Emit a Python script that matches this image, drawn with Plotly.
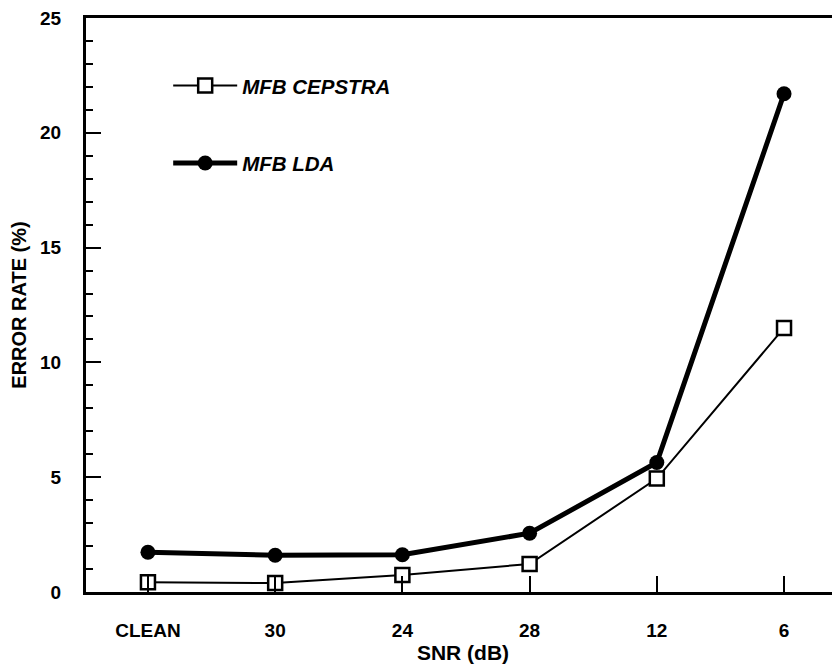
import plotly.graph_objects as go

categories = ["CLEAN", "30", "24", "28", "12", "6"]
cepstra = [0.43, 0.39, 0.74, 1.22, 4.94, 11.5]
lda = [1.73, 1.6, 1.62, 2.56, 5.64, 21.7]
y_ticks = [0, 5, 10, 15, 20, 25]

xpos = list(range(len(categories)))
FONT = "Liberation Sans, Arial, Helvetica, sans-serif"

fig = go.Figure()
fig.add_trace(go.Scatter(
    x=xpos, y=cepstra, mode="lines+markers", name="MFB CEPSTRA",
    line=dict(color="black", width=2),
    marker=dict(symbol="square", size=14, color="white", line=dict(color="black", width=2.5)),
    legend="legend",
))
fig.add_trace(go.Scatter(
    x=xpos, y=lda, mode="lines+markers", name="MFB LDA",
    line=dict(color="black", width=5),
    marker=dict(symbol="circle", size=15, color="black"),
    legend="legend2",
))

legend_common = dict(
    bgcolor="rgba(0,0,0,0)", borderwidth=0,
    font=dict(family=FONT, size=20.5, color="black", weight="bold", style="italic"),
    xanchor="left", yanchor="middle", itemwidth=64,
)
# page has an 8px body margin, so the figure is sized to fit the 840x669 window
fig.update_layout(
    width=832, height=661,
    margin=dict(l=78, r=0, t=10, b=77, autoexpand=False),
    plot_bgcolor="white", paper_bgcolor="white",
    font=dict(family=FONT, color="black"),
    showlegend=True,
    legend=dict(x=0.109, y=0.882, **legend_common),
    legend2=dict(x=0.109, y=0.747, **legend_common),
    xaxis=dict(
        range=[-0.487, 5.44], tickmode="array", tickvals=xpos, ticktext=categories,
        ticks="inside", ticklen=16, tickwidth=2, tickcolor="black",
        showline=True, linecolor="black", linewidth=3, mirror=True,
        showgrid=False, zeroline=False, ticklabelstandoff=19, automargin=False,
        ticklabeloverflow="allow",
        tickfont=dict(family=FONT, size=19, color="black", weight="bold"),
        title=dict(text="SNR (dB)", standoff=6,
                   font=dict(family=FONT, size=21, color="black", weight="bold")),
    ),
    yaxis=dict(
        range=[0, 25], tickmode="array", tickvals=y_ticks,
        ticks="inside", ticklen=15, tickwidth=2, tickcolor="black",
        minor=dict(ticks="inside", ticklen=7, tickwidth=2, dtick=1, tickcolor="black", showgrid=False),
        showline=True, linecolor="black", linewidth=3, mirror=False,
        showgrid=False, zeroline=False, ticklabelstandoff=18, automargin=False,
        ticklabeloverflow="allow",
        tickfont=dict(family=FONT, size=19, color="black", weight="bold"),
        title=dict(text="ERROR RATE (%)", standoff=9,
                   font=dict(family=FONT, size=20, color="black", weight="bold")),
    ),
)

fig.write_html("out.html")
